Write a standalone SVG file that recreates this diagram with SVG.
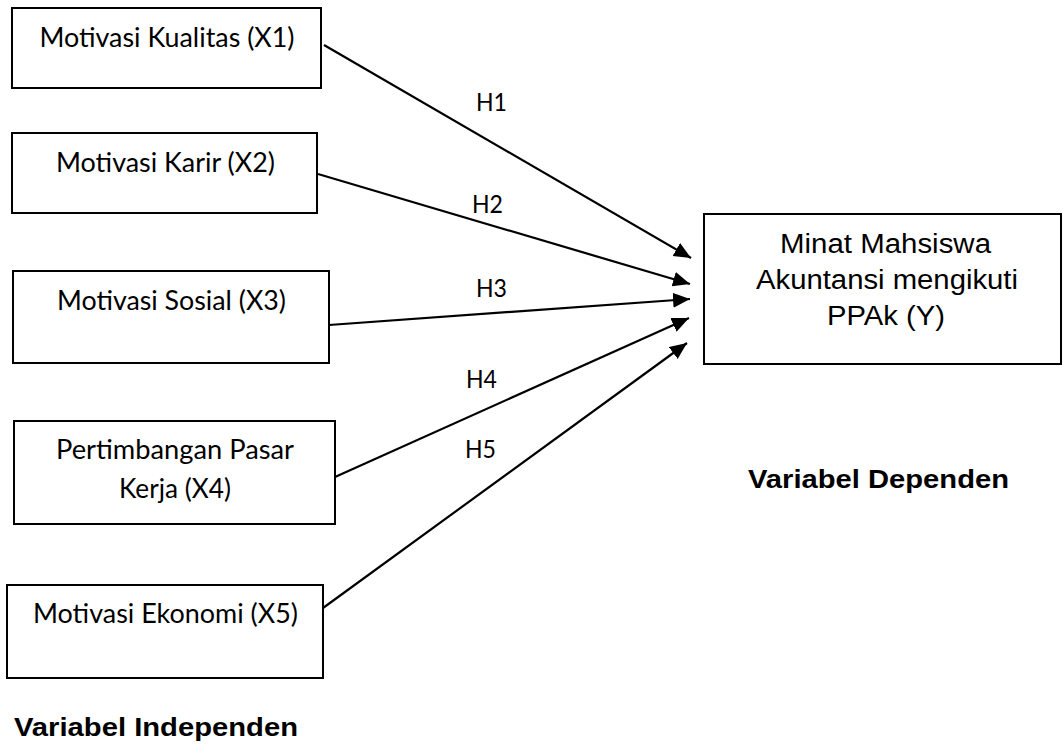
<svg xmlns="http://www.w3.org/2000/svg" width="1063" height="744" viewBox="0 0 1063 744">
<style>
rect.box{fill:#fff;stroke:#000;stroke-width:2}
.c{font-family:Lato,"Open Sans",sans-serif;font-size:26px;fill:#000;text-anchor:middle}
.a{font-family:"Liberation Sans",Arial,sans-serif;font-size:27px;fill:#000;text-anchor:middle}
.b{font-family:"Liberation Sans",Arial,sans-serif;font-size:26px;font-weight:bold;fill:#000}
.h{font-family:Lato,"Open Sans",sans-serif;font-size:25px;fill:#000}
line.e{stroke:#000;stroke-width:2.2;marker-end:url(#ah)}
</style>
<defs>
<marker id="ah" markerUnits="userSpaceOnUse" markerWidth="18" markerHeight="16" refX="17" refY="7.5" orient="auto">
<path d="M0,0 L17,7.5 L0,15 z" fill="#000"/>
</marker>
</defs>
<rect width="1063" height="744" fill="#fff"/>
<g id="x1">
<rect class="box" x="12" y="8" width="309" height="80"/>
<text class="c" x="167" y="47" textLength="255" lengthAdjust="spacingAndGlyphs">Motivasi Kualitas (X1)</text>
</g>
<g id="x2">
<rect class="box" x="12" y="133" width="305" height="80"/>
<text class="c" x="165.5" y="172" textLength="219" lengthAdjust="spacingAndGlyphs">Motivasi Karir (X2)</text>
</g>
<g id="x3">
<rect class="box" x="13" y="271" width="316" height="92"/>
<text class="c" x="171.5" y="310" textLength="229" lengthAdjust="spacingAndGlyphs">Motivasi Sosial (X3)</text>
</g>
<g id="x4">
<rect class="box" x="14" y="421" width="321" height="103"/>
<text class="c" x="175" y="459" textLength="238" lengthAdjust="spacingAndGlyphs">Pertimbangan Pasar</text>
<text class="c" x="175" y="498" textLength="112" lengthAdjust="spacingAndGlyphs">Kerja (X4)</text>
</g>
<g id="x5">
<rect class="box" x="7" y="585" width="316" height="93"/>
<text class="c" x="165.5" y="623" textLength="265" lengthAdjust="spacingAndGlyphs">Motivasi Ekonomi (X5)</text>
</g>
<g id="y">
<rect class="box" x="704" y="214" width="357" height="150"/>
<text class="a" x="885.5" y="253" textLength="211" lengthAdjust="spacingAndGlyphs">Minat Mahsiswa</text>
<text class="a" x="887" y="289" textLength="262" lengthAdjust="spacingAndGlyphs">Akuntansi mengikuti</text>
<text class="a" x="886" y="325" textLength="118" lengthAdjust="spacingAndGlyphs">PPAk (Y)</text>
</g>
<g id="connectors">
<line class="e" x1="324" y1="45" x2="691" y2="258"/>
<line class="e" x1="318" y1="174" x2="690" y2="284"/>
<line class="e" x1="329" y1="325" x2="690" y2="299"/>
<line class="e" x1="335" y1="477" x2="689" y2="318"/>
<line class="e" x1="323" y1="608" x2="687" y2="343"/>
<text class="h" x="476" y="111" textLength="31" lengthAdjust="spacingAndGlyphs">H1</text>
<text class="h" x="472" y="213" textLength="31" lengthAdjust="spacingAndGlyphs">H2</text>
<text class="h" x="476" y="297" textLength="31" lengthAdjust="spacingAndGlyphs">H3</text>
<text class="h" x="466" y="388" textLength="31" lengthAdjust="spacingAndGlyphs">H4</text>
<text class="h" x="465" y="458" textLength="31" lengthAdjust="spacingAndGlyphs">H5</text>
</g>
<text id="lbl-ind" class="b" x="14" y="736" textLength="284" lengthAdjust="spacingAndGlyphs">Variabel Independen</text>
<text id="lbl-dep" class="b" x="748" y="488" textLength="261" lengthAdjust="spacingAndGlyphs">Variabel Dependen</text>
</svg>
